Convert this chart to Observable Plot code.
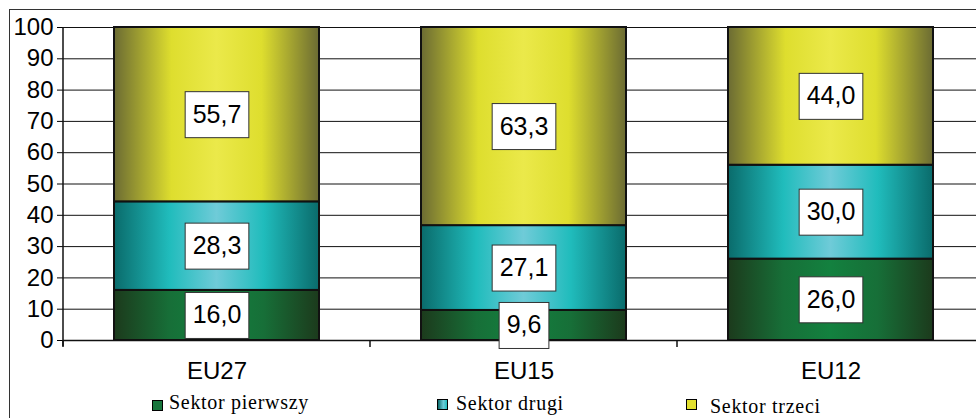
<!DOCTYPE html>
<html>
<head>
<meta charset="utf-8">
<script src="https://cdn.jsdelivr.net/npm/d3@7"></script>
<script src="https://cdn.jsdelivr.net/npm/@observablehq/plot@0.6"></script>
<style>
  html, body { margin: 0; padding: 0; background: #fff; }
  #wrap { position: relative; width: 976px; height: 418px; overflow: hidden; }
  #frame { position: absolute; left: 9px; top: 9px; width: 1100px; height: 600px; border: 1.5px solid #333; box-sizing: border-box; }
  #chart { position: absolute; left: 0; top: 0; }
  .lg { position: absolute; font-family: "Liberation Serif", "Times New Roman", serif; font-size: 20px; letter-spacing: 0.7px; color: #000; white-space: nowrap; line-height: 1; }
  .sw { position: absolute; width: 11px; height: 11px; border: 1px solid #000; box-sizing: border-box; }
</style>
</head>
<body>
<div id="wrap">
  <div id="frame"></div>
  <div id="chart"></div>
  <div id="legend"></div>
</div>
<script>
const categories = ["EU27", "EU15", "EU12"];
const series = ["Sektor pierwszy", "Sektor drugi", "Sektor trzeci"];
const pierwszy = [16.0, 9.6, 26.0];
const drugi = [28.3, 27.1, 30.0];
const trzeci = [55.7, 63.3, 44.0];
const yTicks = [0, 10, 20, 30, 40, 50, 60, 70, 80, 90, 100];

const seriesValues = [pierwszy, drugi, trzeci];
const data = series.flatMap((s, i) => categories.map((c, j) => ({cat: c, series: s, value: seriesValues[i][j]})));
const fmt = v => v.toFixed(1).replace(".", ",");

const gradIds = ["gP", "gD", "gT"];
const gradStops = [
  [[0, "#1c3a1c"], [0.27, "#176f38"], [0.5, "#13813f"], [0.73, "#176f38"], [1, "#1c3a1c"]],
  [[0, "#0a6b6b"], [0.27, "#20bcbc"], [0.5, "#6fcbd8"], [0.73, "#20bcbc"], [1, "#0a6b6b"]],
  [[0, "#6b6b33"], [0.28, "#dede2e"], [0.5, "#ebe94a"], [0.72, "#dede2e"], [1, "#6b6b33"]]
];
const swatchCss = [
  "#17753c",
  "linear-gradient(90deg, #0a6b6b, #6fcbd8 60%, #20bcbc)",
  "#e2e030"
];

const plot = Plot.plot({
  width: 976,
  height: 418,
  marginLeft: 63,
  marginRight: 0,
  marginTop: 27,
  marginBottom: 78,
  style: {fontFamily: "'Liberation Sans', Arial, sans-serif", background: "transparent", color: "#000", overflow: "visible"},
  x: {domain: categories, range: [63, 984], paddingInner: 0.332, paddingOuter: 0.166, axis: null, label: null},
  y: {domain: [0, 100], axis: null, label: null},
  color: {domain: series, range: gradIds.map(id => `url(#${id})`)},
  marks: [
    Plot.gridY(yTicks, {stroke: "#111", strokeOpacity: 1, strokeWidth: 1}),
    Plot.axisY(yTicks, {tickSize: 6, tickPadding: 4, fontSize: 24, stroke: "#000", label: null, tickFormat: d => String(d)}),
    Plot.axisX({tickSize: 0, tickPadding: 21, fontSize: 24, label: null}),
    Plot.barY(data, {x: "cat", y: "value", fill: "series", stroke: "#111", strokeWidth: 2}),
    Plot.ruleY([0], {stroke: "#111", strokeWidth: 1.5}),
    Plot.text(data, Plot.stackY({x: "cat", y: "value", text: d => fmt(d.value), fontSize: 25, fill: "#000"}))
  ]
});

document.getElementById("chart").appendChild(plot);

const svg = d3.select(plot);
const defs = svg.insert("defs", ":first-child");
gradIds.forEach((id, i) => {
  const g = defs.append("linearGradient").attr("id", id).attr("x1", 0).attr("x2", 1).attr("y1", 0).attr("y2", 0);
  gradStops[i].forEach(([o, c]) => g.append("stop").attr("offset", o).attr("stop-color", c));
});

// label boxes behind the value labels
svg.selectAll('g[aria-label="text"] text').each(function () {
  const b = this.getBBox();
  const cx = b.x + b.width / 2, cy = b.y + b.height / 2;
  const w = b.width + 15, h = 46;
  const parent = this.parentNode;
  const r = document.createElementNS("http://www.w3.org/2000/svg", "rect");
  const tr = this.getAttribute("transform");
  if (tr) r.setAttribute("transform", tr);
  r.setAttribute("x", cx - w / 2);
  r.setAttribute("y", cy - h / 2 + 1);
  r.setAttribute("width", w);
  r.setAttribute("height", h);
  r.setAttribute("fill", "#fff");
  r.setAttribute("stroke", "#333");
  r.setAttribute("stroke-width", 1);
  parent.insertBefore(r, this);
});

// y axis line and category boundary ticks, from scales
const xs = plot.scale("x"), ys = plot.scale("y");
const step = xs.step;
const y0 = ys.apply(0), y100 = ys.apply(100);
const x0 = xs.range[0];
const extra = svg.append("g").attr("stroke", "#111").attr("stroke-width", 1.5);
extra.append("line").attr("x1", x0).attr("x2", x0).attr("y1", y100).attr("y2", y0 + 6);
categories.forEach((c, i) => {
  const bx = x0 + step * i;
  extra.append("line").attr("x1", bx).attr("x2", bx).attr("y1", y0).attr("y2", y0 + 7);
});

// legend
const lgPos = [
  {sx: 152, sy: 400, tx: 169, ty: 392},
  {sx: 437, sy: 399, tx: 456, ty: 393},
  {sx: 686, sy: 399, tx: 710, ty: 396}
];
const lg = document.getElementById("legend");
series.forEach((s, i) => {
  const p = lgPos[i];
  const sw = document.createElement("div");
  sw.className = "sw";
  sw.style.left = p.sx + "px"; sw.style.top = p.sy + "px";
  sw.style.background = swatchCss[i];
  lg.appendChild(sw);
  const t = document.createElement("div");
  t.className = "lg";
  t.style.left = p.tx + "px"; t.style.top = p.ty + "px";
  t.textContent = s;
  lg.appendChild(t);
});
</script>
</body>
</html>
